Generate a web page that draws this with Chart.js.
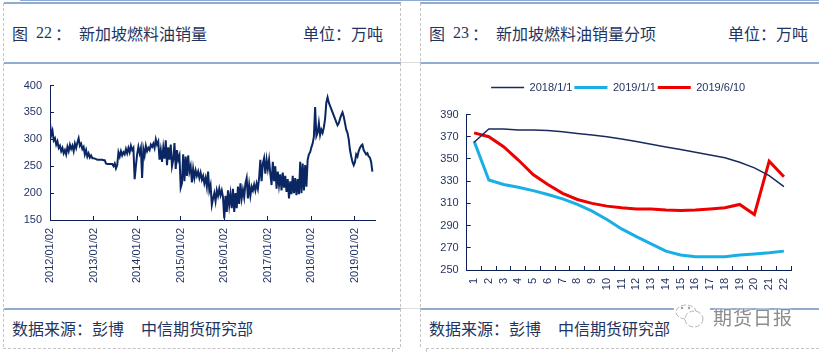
<!DOCTYPE html>
<html>
<head>
<meta charset="utf-8">
<script src="https://cdn.jsdelivr.net/npm/chart.js@4/dist/chart.umd.min.js"></script>
<style>
html, body { margin: 0; padding: 0; background: #fff; }
body { width: 819px; height: 352px; overflow: hidden; position: relative; font-family: "Noto Sans CJK SC", sans-serif; color: #1f3560; }
.rule { position: absolute; height: 2px; background: #92abd0; }
.pale { position: absolute; height: 1px; background: #dedede; }
.dash { position: absolute; width: 0; border-left: 1px dashed #c4c4c4; }
.dashh { position: absolute; height: 0; border-top: 1px dashed #c4c4c4; }
.txt { position: absolute; font-size: 16px; line-height: 20px; white-space: nowrap; }
.num { font-family: "Liberation Serif", serif; }
canvas { position: absolute; }
#mark { position: absolute; left: 713px; top: 305px; font-size: 19px; line-height: 24px; color: #8c8c8c; letter-spacing: 1px; text-shadow: 0 0 2px #fff, 0 0 2px #fff; }
</style>
</head>
<body>
<div class="rule" style="left:20px;top:0;width:799px;height:1px"></div>
<div class="rule" style="left:4px;top:2px;width:397px"></div>
<div class="rule" style="left:420px;top:2px;width:399px"></div>
<div class="rule" style="left:4px;top:62px;width:397px"></div>
<div class="rule" style="left:420px;top:62px;width:399px"></div>
<div class="rule" style="left:4px;top:308px;width:397px"></div>
<div class="rule" style="left:420px;top:308px;width:399px"></div>
<div class="pale" style="left:401px;top:62px;width:19px"></div>
<div class="pale" style="left:401px;top:308px;width:19px"></div>
<div class="dash" style="left:3px;top:3px;height:344px"></div>
<div class="dash" style="left:400px;top:3px;height:344px"></div>
<div class="dash" style="left:420px;top:3px;height:344px"></div>
<div class="dashh" style="left:3px;top:348px;width:397px"></div>
<div class="dashh" style="left:426px;top:348px;width:393px"></div>
<div class="dash" style="left:392px;top:348px;height:4px"></div>
<div class="dash" style="left:426px;top:348px;height:4px"></div>

<div class="txt" style="left:12px;top:23px">图</div>
<div class="txt num" style="left:36px;top:23px">22</div>
<div class="txt" style="left:55px;top:23px">：</div>
<div class="txt" style="left:79px;top:23px">新加坡燃料油销量</div>
<div class="txt" style="left:303px;top:23px">单位：万吨</div>
<div class="txt" style="left:429px;top:23px">图</div>
<div class="txt num" style="left:453px;top:23px">23</div>
<div class="txt" style="left:472px;top:23px">：</div>
<div class="txt" style="left:496px;top:23px">新加坡燃料油销量分项</div>
<div class="txt" style="left:728px;top:23px">单位：万吨</div>
<div class="txt" style="left:12px;top:318px">数据来源：彭博</div>
<div class="txt" style="left:141px;top:318px">中信期货研究部</div>
<div class="txt" style="left:429px;top:318px">数据来源：彭博</div>
<div class="txt" style="left:558px;top:318px">中信期货研究部</div>

<canvas id="salesChart" style="left:0;top:64px" width="400" height="244"></canvas>
<canvas id="itemChart" style="left:420px;top:64px" width="396" height="244"></canvas>

<svg style="position:absolute;left:674px;top:302px" width="36" height="30">
  <rect x="0" y="4" width="36" height="8" fill="#fff"/>
  <ellipse cx="12" cy="10" rx="10" ry="7" fill="none" stroke="#b5b5b5" stroke-width="1" stroke-dasharray="5 2"/>
  <ellipse cx="20" cy="17" rx="9" ry="8" fill="#fff" stroke="#b5b5b5" stroke-width="1" stroke-dasharray="5 2"/>
  <circle cx="8" cy="6" r="1.2" fill="#a0a0a0"/>
  <circle cx="15" cy="6" r="1.2" fill="#a0a0a0"/>
</svg>
<div id="mark">期货日报</div>

<script>
var valueYears = [2012, 2013, 2014, 2015, 2016, 2017, 2018, 2019];
var sales2012 = [330,308,316,298,302,290,296,284,288,278,284,274,280,272,286,278,290,282,288,278,292,284,294,302,288,292,282,286,272,280,268,274,266,270,265];
var sales2013 = [265,264,263,262,262,262,262,262,261,261,255,254,254,254,254,254,250,255,246,252,276,268,278,270,276,272,282,274,284,276,288,280,284,226,250];
var sales2014 = [272,286,274,284,228,282,270,288,278,284,280,290,286,292,284,300,290,296,262,280,258,284,264,298,252,285,262,290,250,262,293,245,280,262,270];
var sales2015 = [210,218,272,222,268,232,270,240,250,220,245,228,242,232,240,228,238,225,232,218,228,212,240,205,215,178,190,200,185,205,195,208,196,205,192];
var sales2016 = [153,195,165,205,178,198,172,208,165,200,172,212,180,218,190,206,192,218,228,190,215,195,212,205,216,205,218,208,228,262,222,255,265,236,262];
var sales2017 = [245,262,236,215,258,222,250,208,240,215,235,205,238,210,232,202,226,190,222,198,232,200,228,196,226,198,258,200,255,205,252,212,262,272,276];
var sales2018 = [285,292,305,360,306,312,330,308,318,312,322,338,368,378,368,362,356,350,344,338,332,326,330,338,345,350,342,330,318,312,300,280,268,258,252];
var sales2019 = [258,272,268,278,284,288,290,280,276,272,274,268,266,258,240];
var salesByYear = [sales2012, sales2013, sales2014, sales2015, sales2016, sales2017, sales2018, sales2019];

var itemLabels = ['1','2','3','4','5','6','7','8','9','10','11','12','13','14','15','16','17','18','19','20','21','22'];
var item2018 = [365,377,377,376,376,375.5,374.5,373,371.5,370,368,365.6,363.2,360.8,358.4,356,353.5,351,347,342,335,325];
var item2019 = [366,331,327,324.5,321.5,318,314,309,303,295.5,287,280,273.5,267,263.5,262,262,262,263.5,264.5,265.5,267];
var item201906 = [373.5,370,361,349,336,327,319,313.5,310,307.5,306,305,305,304,303.5,304,305,306,309,300,348,334];

var navy = '#0b1f56';
var textColor = '#1f2f5f';
var tickFont = { family: '"Liberation Sans", Arial, sans-serif', size: 11 };

function sales_data() {
    var points = [];
    for (var i = 0; i < valueYears.length; i++) {
        for (var j = 0; j < salesByYear[i].length; j++) {
            points.push({ x: valueYears[i] + j / 35, y: salesByYear[i][j] });
        }
    }
    return points;
}

function fit_width(w) { return function (scale) { scale.width = w; }; }
function fit_height(h) { return function (scale) { scale.height = h; }; }

function axis_grid() {
    return { drawOnChartArea: false, color: navy, tickLength: -4, tickWidth: 1 };
}

// room under the legend, and centre it on the whole panel rather than the plot
var legendSpacing = {
    id: 'legendSpacing',
    beforeInit: function (chart) {
        var fit = chart.legend.fit;
        chart.legend.fit = function () {
            fit.call(this);
            this.height += 11.5;
        };
    },
    afterLayout: function (chart) {
        chart.legend.right += 25;
    }
};

new Chart(document.getElementById('salesChart').getContext('2d'), {
    type: 'line',
    data: {
        datasets: [{
            data: sales_data(),
            borderColor: '#0a2663',
            borderWidth: 2,
            pointRadius: 0,
            tension: 0
        }]
    },
    options: {
        responsive: false,
        animation: false,
        layout: { padding: { top: 21.5, right: 25, left: 0, bottom: 0 } },
        plugins: { legend: { display: false }, tooltip: { enabled: false } },
        scales: {
            x: {
                type: 'linear',
                min: 2012,
                max: 2019.46,
                afterFit: fit_height(88),
                grid: axis_grid(),
                border: { color: navy, width: 1 },
                ticks: {
                    stepSize: 1,
                    includeBounds: false,
                    autoSkip: false,
                    minRotation: 90,
                    maxRotation: 90,
                    padding: 12,
                    color: textColor,
                    font: tickFont,
                    callback: function (v) { return v + '/01/02'; }
                }
            },
            y: {
                min: 150,
                max: 400,
                afterFit: fit_width(50),
                grid: axis_grid(),
                border: { color: navy, width: 1 },
                ticks: { stepSize: 50, padding: 12, color: textColor, font: tickFont }
            }
        }
    }
});

new Chart(document.getElementById('itemChart').getContext('2d'), {
    type: 'line',
    plugins: [legendSpacing],
    data: {
        labels: itemLabels,
        datasets: [
            { label: '2018/1/1', data: item2018, borderColor: '#1b2a5e', backgroundColor: '#1b2a5e', borderWidth: 1.5, pointRadius: 0, tension: 0 },
            { label: '2019/1/1', data: item2019, borderColor: '#19aee6', backgroundColor: '#19aee6', borderWidth: 3, pointRadius: 0, tension: 0 },
            { label: '2019/6/10', data: item201906, borderColor: '#ee0000', backgroundColor: '#ee0000', borderWidth: 3, pointRadius: 0, tension: 0 }
        ]
    },
    options: {
        responsive: false,
        animation: false,
        layout: { padding: { top: 16, right: 24.7, left: 0, bottom: 0 } },
        plugins: {
            tooltip: { enabled: false },
            legend: {
                display: true,
                position: 'top',
                labels: {
                    usePointStyle: true,
                    pointStyle: 'line',
                    pointStyleWidth: 33,
                    padding: 2,
                    color: textColor,
                    font: tickFont
                }
            }
        },
        scales: {
            x: {
                afterFit: fit_height(38),
                offset: true,
                grid: Object.assign(axis_grid(), { offset: true }),
                border: { color: navy, width: 1 },
                ticks: {
                    autoSkip: false,
                    minRotation: 90,
                    maxRotation: 90,
                    padding: 12,
                    color: textColor,
                    font: tickFont
                }
            },
            y: {
                min: 250,
                max: 390,
                afterFit: fit_width(46.7),
                grid: axis_grid(),
                border: { color: navy, width: 1 },
                ticks: { stepSize: 20, padding: 12, color: textColor, font: tickFont }
            }
        }
    }
});
</script>
</body>
</html>
